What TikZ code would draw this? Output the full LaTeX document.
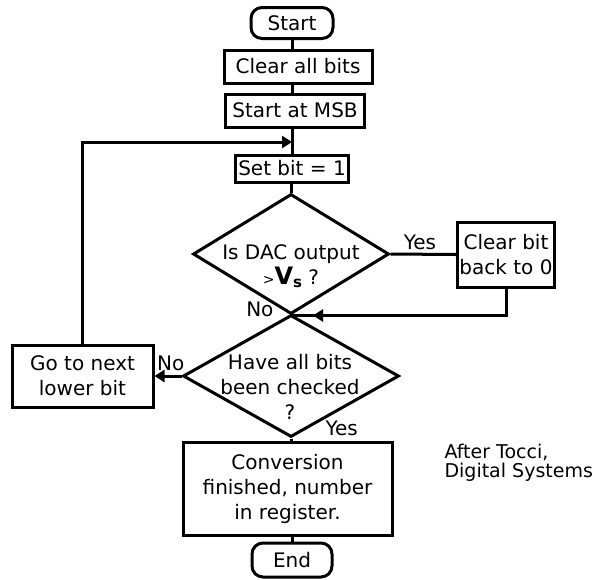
\documentclass[tikz,border=0pt]{standalone}
\usepackage{fontspec}
\setmainfont{DejaVu Sans}
\usetikzlibrary{shapes.geometric,arrows.meta}

\tikzset{
    txt/.style={font=\fontsize{20}{25}\selectfont, align=center},
    box/.style={draw, line width=3pt, txt, inner sep=0pt},
    term/.style={box, rounded corners=11pt},
    decide/.style={draw, diamond, line width=3pt, inner sep=0pt},
    line/.style={line width=3pt},
    flow/.style={line, -{Triangle[length=10pt,width=12pt]}},
}

\begin{document}
\begin{tikzpicture}[x=1pt,y=-1pt]
    \useasboundingbox (0,0) rectangle (596,579);
    % main column
    \node[term, minimum width=82pt, minimum height=31pt] (start) at (292,23) {Start};
    \node[box, minimum width=148pt, minimum height=33pt] (clear) at (298,66.5) {Clear all bits};
    \node[box, minimum width=139pt, minimum height=33pt] (msb) at (295,110.5) {Start at MSB};
    \node[box, minimum width=113pt, minimum height=27pt] (setbit) at (292,168.5) {Set bit = 1};
    \node[decide, minimum width=196pt, minimum height=120pt] (dac) at (291,254) {};
    \node[txt] (dacq) at (291,266) {Is DAC output\\{\fontsize{14}{14}\selectfont>}{\fontsize{24}{24}\selectfont\bfseries V\raisebox{-3pt}{\fontsize{15}{15}\selectfont s}}\ ?};
    \node[box, minimum width=97pt, minimum height=65pt] (clr) at (506,254.5) {Clear bit\\back to 0};
    \node[decide, minimum width=216pt, minimum height=122pt] (done) at (291,376) {};
    \node[txt] (doneq) at (290,387) {Have all bits\\been checked\\?};
    \node[box, minimum width=141pt, minimum height=62pt] (next) at (82.5,376) {Go to next\\lower bit};
    \node[box, minimum width=209pt, minimum height=93pt] (conv) at (287.5,488.5) {Conversion\\finished, number\\in register.};
    \node[term, minimum width=80pt, minimum height=34pt] (stop) at (292,560) {End};
    \node[txt, anchor=north west, align=left, font=\fontsize{19}{19}\selectfont] (credit) at (441,441) {After Tocci,\\Digital Systems};
    \coordinate (loop) at (292,142);
    % connectors
    \draw[line] (start.south) -- (start.south |- clear.north);
    \draw[line] (clear.south -| start) -- (start |- msb.north);
    \draw[line] (msb.south -| start) -- (setbit.north);
    \draw[line] (setbit.south -| dac) -- (dac.north);
    \draw[line] (dac.east) -- (clr.west) node[pos=0.45, above, txt] (yes1) {Yes};
    \draw[line] (clr.south) |- (dac.south);
    \draw[flow] (clr.south |- dac.south) -- ([xshift=22pt]dac.south);
    \node[txt, anchor=east] (no1) at (277,309) {No};
    \draw[line] (dac.south) -- (done.north);
    \draw[flow] (done.west) -- (next.east) node[pos=0.4, above, txt] (no2) {No};
    \draw[flow] (next.north) |- (loop);
    \draw[line] (done.south) -- (done.south |- conv.north);
    \node[txt, anchor=west] (yes2) at (322,428) {Yes};
    \draw[line] (conv.south -| stop) -- (stop.north);
\end{tikzpicture}
\end{document}
